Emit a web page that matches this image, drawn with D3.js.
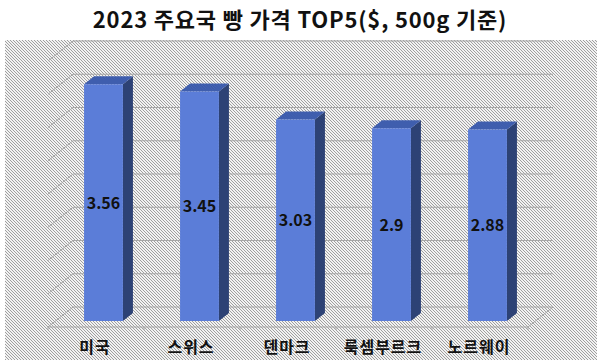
<!DOCTYPE html>
<html>
<head>
<meta charset="utf-8">
<script src="https://cdn.jsdelivr.net/npm/d3@7"></script>
<style>
  body { margin: 0; background: #fff; }
  text { font-family: "Noto Sans CJK KR", "Noto Sans", sans-serif; }
</style>
</head>
<body>
<script>
var title = "2023 주요국 빵 가격 TOP5($, 500g 기준)";
var countries = ["미국", "스위스", "덴마크", "룩셈부르크", "노르웨이"];
var prices = [3.56, 3.45, 3.03, 2.9, 2.88];
var yMax = 4;

var W = 600, H = 363;
// oblique 3d: full depth shifts by (depX, depY)
var depX = 25, depY = -20;
var floorY = 327, left = 48, right = 528;

var svg = d3.select("body").append("svg")
  .attr("width", W).attr("height", H);

var defs = svg.append("defs");
var pat = defs.append("pattern")
  .attr("id", "hatch")
  .attr("patternUnits", "userSpaceOnUse")
  .attr("width", 3).attr("height", 3);
pat.append("rect").attr("width", 3).attr("height", 3).attr("fill", "#f2f2f2");
pat.append("path").attr("d", "M-1,-1L4,4M2,-1L4,1M-1,2L1,4")
  .attr("stroke", "#959595").attr("stroke-width", 0.9);

svg.append("rect")
  .attr("x", 5).attr("y", 40).attr("width", 592).attr("height", 320)
  .attr("fill", "url(#hatch)");

svg.append("text")
  .attr("x", 300).attr("y", 28)
  .attr("text-anchor", "middle")
  .attr("font-size", 22).attr("font-weight", "bold")
  .attr("letter-spacing", 0.8)
  .attr("fill", "#111")
  .text(title);

var x = d3.scaleBand().domain(countries).range([left, right]);
var h = d3.scaleLinear().domain([0, yMax]).range([0, 266]);

// point in 3d: px along front, value v, depth d (0 front .. 1 back)
function P(px, v, d) {
  return [px + depX * d, floorY + depY * d - h(v)];
}

var grid = svg.append("g").attr("stroke", "#a6a6a6").attr("stroke-width", 1).attr("fill", "none");
var ticks = h.ticks(8);
ticks.forEach(function (t) {
  var a = P(left, t, 1), b = P(right, t, 1), c = P(left, t, 0);
  grid.append("line").attr("x1", a[0]).attr("y1", a[1]).attr("x2", b[0]).attr("y2", b[1]);
  grid.append("line").attr("x1", c[0]).attr("y1", c[1]).attr("x2", a[0]).attr("y2", a[1]);
});
// floor
var f0 = P(left, 0, 0), f1 = P(right, 0, 0), f2 = P(right, 0, 1);
grid.append("path").attr("d", "M" + f0 + "L" + f1 + "L" + f2);
x.domain().concat([null]).forEach(function (c, i) {
  var px = left + i * x.bandwidth();
  grid.append("line").attr("x1", px).attr("y1", floorY).attr("x2", px).attr("y2", floorY + 3);
});

var bw = x.bandwidth() * 0.405;
var d0 = 0.3, d1 = 0.7;

var bars = svg.append("g").selectAll("g").data(prices).enter().append("g");
bars.each(function (v, i) {
  var g = d3.select(this);
  var cx = x(countries[i]) + x.bandwidth() / 2;
  var xl = cx - bw / 2, xr = cx + bw / 2;
  var a = P(xl, v, d0), b = P(xr, v, d0), c = P(xr, 0, d0), e = P(xl, 0, d0);
  var bt = P(xr, v, d1), bb = P(xr, 0, d1), lt = P(xl, v, d1);
  g.append("path").attr("d", "M" + b + "L" + bt + "L" + bb + "L" + c + "Z").attr("fill", "#2d4275");
  g.append("path").attr("d", "M" + a + "L" + lt + "L" + bt + "L" + b + "Z").attr("fill", "#3f5eae");
  g.append("path").attr("d", "M" + a + "L" + b + "L" + c + "L" + e + "Z").attr("fill", "#5b7dd8");
  g.append("text")
    .attr("x", cx + depX * d0).attr("y", (a[1] + e[1]) / 2 + 6)
    .attr("text-anchor", "middle")
    .attr("font-size", 16).attr("font-weight", "bold").attr("fill", "#111")
    .text(v);
});

svg.append("g").selectAll("text").data(countries).enter().append("text")
  .attr("x", function (d) { return x(d) + x.bandwidth() / 2 - 1; })
  .attr("y", 353)
  .attr("text-anchor", "middle")
  .attr("font-size", 16).attr("font-weight", "bold").attr("fill", "#111")
  .attr("letter-spacing", 1)
  .text(function (d) { return d; });
</script>
</body>
</html>
